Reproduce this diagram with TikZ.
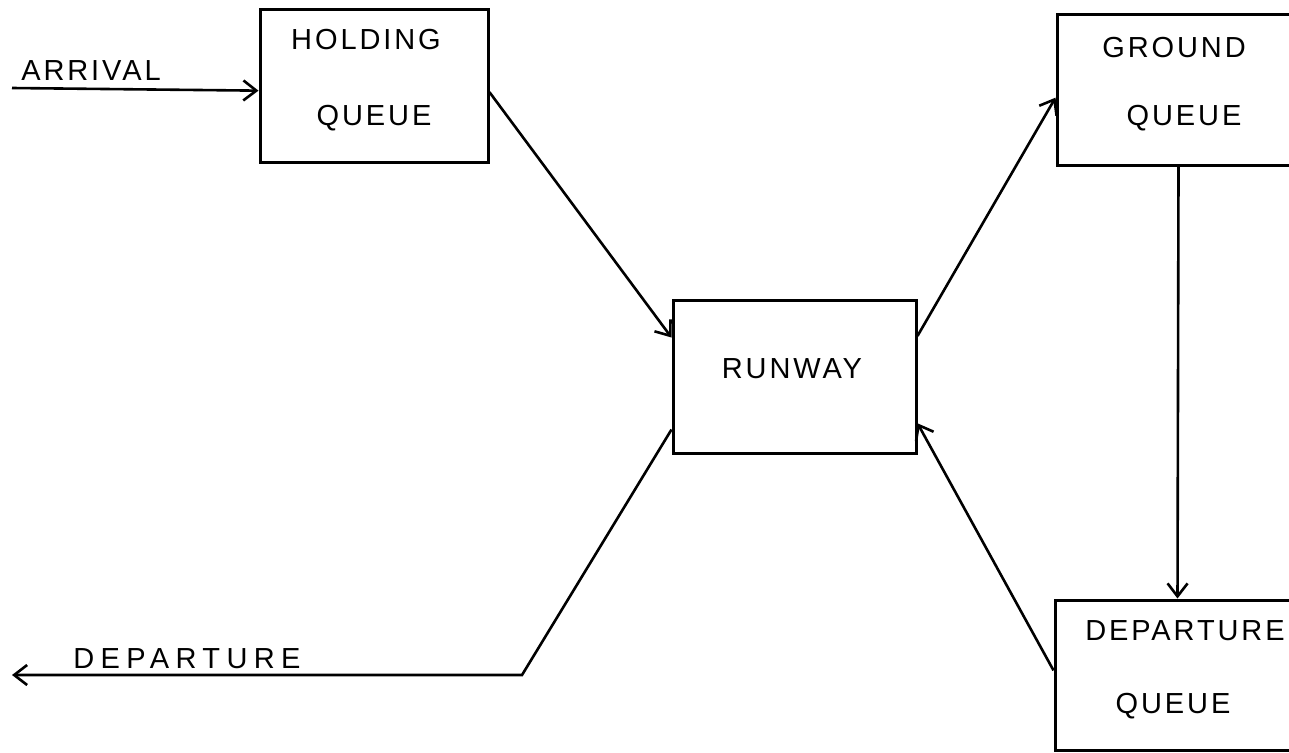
\documentclass[tikz,border=0pt]{standalone}
\usepackage{fontspec}
\setmainfont{Liberation Sans}[LetterSpace=10]
\usetikzlibrary{arrows.meta,calc}
\begin{document}
\begin{tikzpicture}[x=1pt,y=-1pt,
  box/.style={draw,line width=3pt,rectangle,inner sep=0pt},
  lbl/.style={font=\fontsize{29}{31}\selectfont,inner sep=0pt,anchor=base},
  conn/.style={line width=2.6pt,-{Straight Barb[length=13pt,width=20pt,line width=2.6pt]}},
]
\useasboundingbox (0,0) rectangle (1289,752);
\fill[white] (0,0) rectangle (1289,752);

% boxes
\node[box,minimum width=228pt,minimum height=152pt] (hold) at (374,86) {};
\node[box,minimum width=243pt,minimum height=153pt] (run) at (794.5,376.5) {};
\node[box,minimum width=243pt,minimum height=150pt] (ground) at (1178.5,90) {};
\node[box,minimum width=245pt,minimum height=150pt] (depq) at (1177.5,675) {};

% labels
\node[lbl] (holdA) at (366,50) {HOLDING};
\node[lbl] (holdB) at (374,125) {QUEUE};
\node[lbl] (runL) at (792,378) {RUNWAY};
\node[lbl] (groundA) at (1174,58) {GROUND};
\node[lbl] (groundB) at (1184,125) {QUEUE};
\node[lbl] (depqA) at (1185,640) {DEPARTURE};
\node[lbl] (depqB) at (1173,713) {QUEUE};
\node[lbl] (arrL) at (91,80) {ARRIVAL};
\node[lbl,font=\fontsize{29}{31}\selectfont\addfontfeature{LetterSpace=22}] (depL) at (187,668) {DEPARTURE};

% connectors
\coordinate (arrS) at (12,88);
\draw[conn] (arrS) -- ($(hold.north west)!0.53!(hold.south west)$);
\draw[conn] ($(hold.north east)!0.54!(hold.south east)$) -- ($(run.north west)!0.25!(run.south west)$);
\draw[conn] ($(run.north east)!0.24!(run.south east)$) -- ($(ground.north west)!0.55!(ground.south west)$);
\draw[conn] (ground.south) -- (depq.north);
\draw[conn] ($(depq.north west)!0.47!(depq.south west)$) -- ($(run.north east)!0.80!(run.south east)$);
\coordinate (bend) at (522,675);
\coordinate (depE) at (12,675);
\draw[conn] ($(run.north west)!0.84!(run.south west)$) -- (bend) -- (depE);
\end{tikzpicture}
\end{document}
